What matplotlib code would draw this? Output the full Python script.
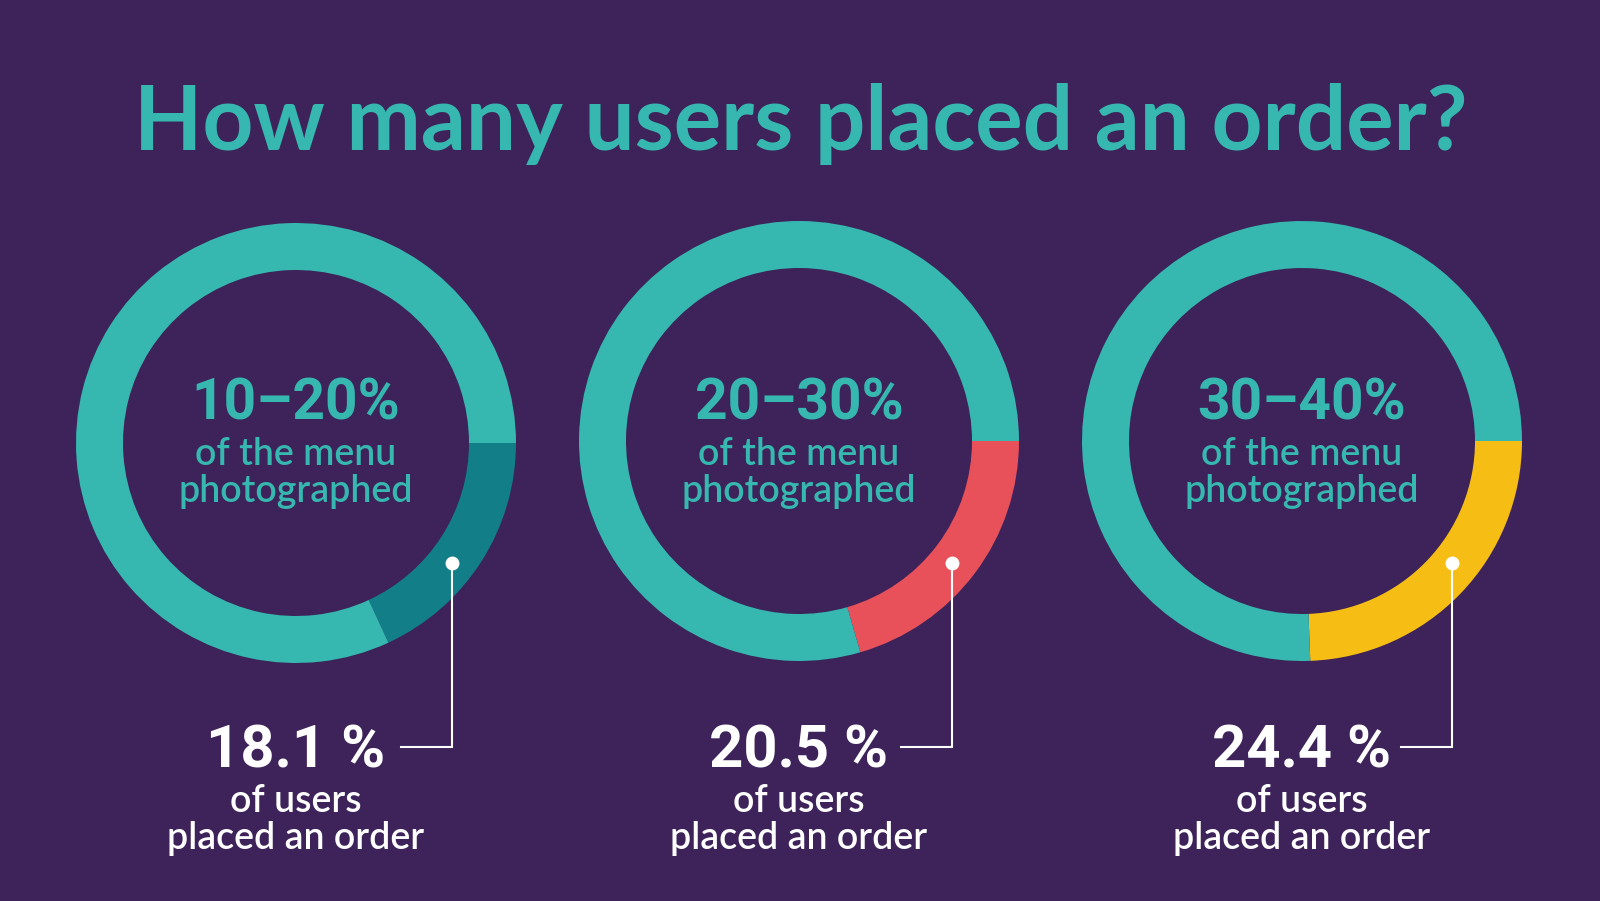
import matplotlib
matplotlib.use("Agg")
import matplotlib.pyplot as plt

# ==========================
# Data
# ==========================

menu_ranges = ["10–20%", "20–30%", "30–40%"]
order_shares = [18.1, 20.5, 24.4]
order_labels = ["18.1 %", "20.5 %", "24.4 %"]
highlight_colors = ["#127E87", "#E9515A", "#F6BE15"]

BACKGROUND = "#3D2359"
TEAL = "#36B7B0"
WHITE = "#FFFFFF"

TITLE_FONT = ["Lato", "DejaVu Sans"]
NUMBER_FONT = ["Roboto", "DejaVu Sans"]
BODY_FONT = ["Lato", "DejaVu Sans"]

# ring centres in pixel space (y measured from top)
centers = [(296, 443), (799, 441), (1302, 441)]
dot_offsets = [156, 153, 150]
outer_radius = 220
ring_width = 47

fig = plt.figure(figsize=(16, 9.01), dpi=100, facecolor=BACKGROUND)
ax = fig.add_axes([0, 0, 1, 1])
ax.set_facecolor(BACKGROUND)

ax.text(801, 150, "How many users placed an order?",
        ha="center", va="baseline", color=TEAL,
        fontsize=64, fontweight="bold", family=TITLE_FONT)

for i in range(3):
    cx, cy = centers[i]
    share = order_shares[i]

    # y axis is inverted, so counterclock=True sweeps clockwise on screen
    ax.pie(
        [share, 100 - share],
        colors=[highlight_colors[i], TEAL],
        startangle=0,
        counterclock=True,
        radius=outer_radius,
        center=(cx, cy),
        wedgeprops=dict(width=ring_width, linewidth=0),
        frame=True,
    )

    ax.text(cx, 419, menu_ranges[i], ha="center", va="baseline",
            color=TEAL, fontsize=41, fontweight="bold", family=NUMBER_FONT)
    ax.text(cx, 465, "of the menu", ha="center", va="baseline",
            color=TEAL, fontsize=27, fontweight="semibold", family=BODY_FONT)
    ax.text(cx, 502, "photographed", ha="center", va="baseline",
            color=TEAL, fontsize=27, fontweight="semibold", family=BODY_FONT)

    # callout
    dot_x, dot_y = cx + dot_offsets[i], 563
    ax.plot([dot_x, dot_x, dot_x - 51], [dot_y, 747, 747],
            color=WHITE, linewidth=1.5, solid_joinstyle="miter")
    ax.plot(dot_x, dot_y, "o", color=WHITE, markersize=9)

    ax.text(cx, 768, order_labels[i], ha="center", va="baseline",
            color=WHITE, fontsize=43, fontweight="bold", family=NUMBER_FONT)
    ax.text(cx, 812, "of users", ha="center", va="baseline",
            color=WHITE, fontsize=27, fontweight="semibold", family=BODY_FONT)
    ax.text(cx, 849, "placed an order", ha="center", va="baseline",
            color=WHITE, fontsize=27, fontweight="semibold", family=BODY_FONT)

ax.set_xlim(0, 1600)
ax.set_ylim(901, 0)
ax.set_aspect("equal")
ax.axis("off")

fig.savefig("out.png", dpi=100, facecolor=BACKGROUND)
